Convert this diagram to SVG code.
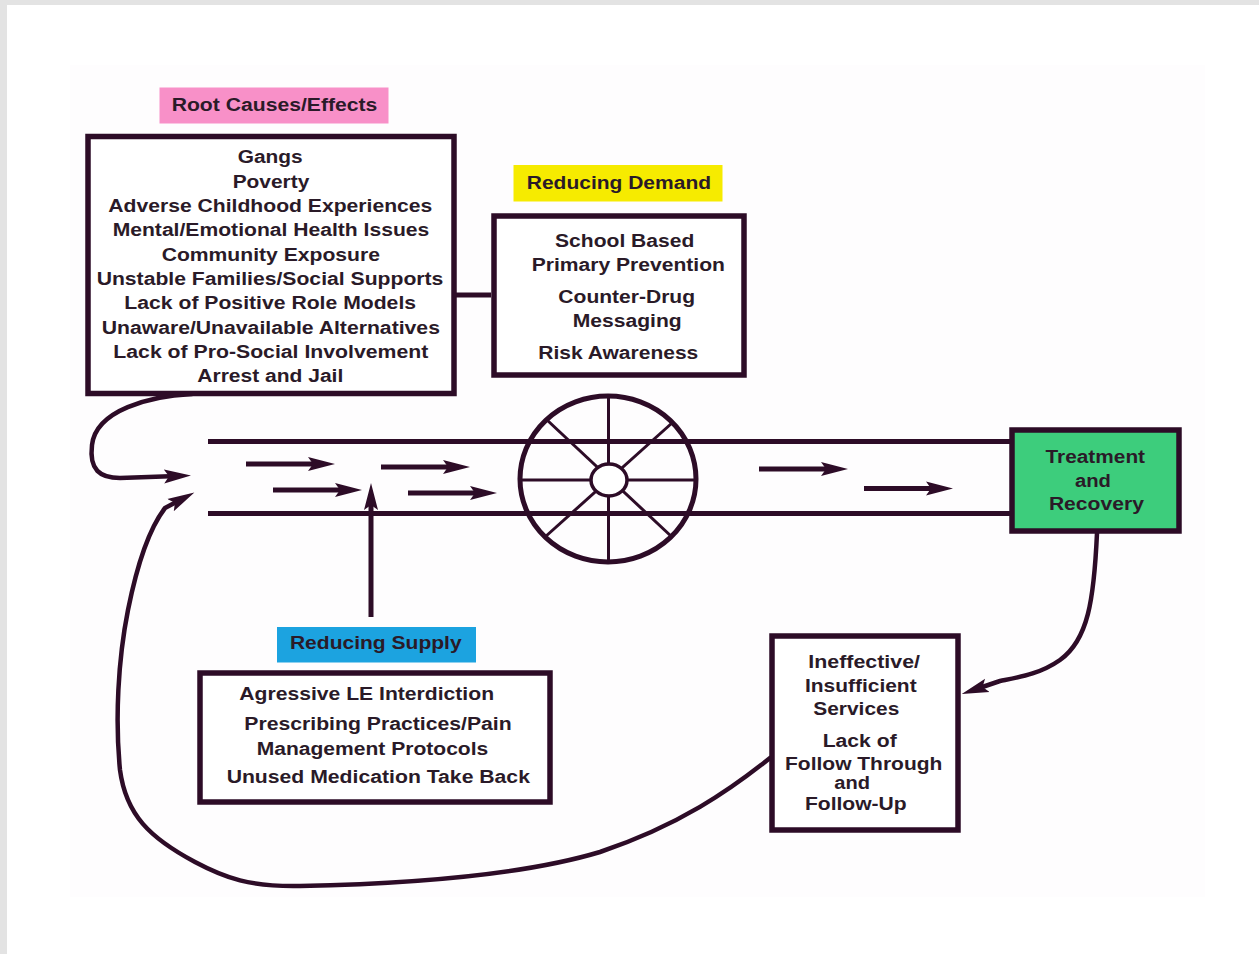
<svg xmlns="http://www.w3.org/2000/svg" width="1259" height="954" viewBox="0 0 1259 954">
<style>
.t{font-family:"Liberation Sans",Arial,sans-serif;font-weight:bold;font-size:18px;fill:#2a1a28;text-anchor:middle}
.box{fill:#ffffff;stroke:#2d0c27;stroke-width:5.5}
.ln{stroke:#2d0c27;stroke-width:5;fill:none}
.cv{stroke:#2d0c27;stroke-width:4.5;fill:none;stroke-linecap:round;stroke-linejoin:round}
.sp{stroke:#2d0c27;stroke-width:3;fill:none}
</style>
<defs>
<marker id="ah" markerUnits="userSpaceOnUse" markerWidth="30" markerHeight="18" refX="13" refY="8" orient="auto">
<path d="M0,1 L27,8 L0,15 L5,8 z" fill="#2d0c27"/>
</marker>
</defs>
<rect x="0" y="0" width="1259" height="954" fill="#ffffff"/>
<rect x="70" y="65" width="1135" height="832" fill="#fefdfe"/>
<rect x="0" y="0" width="1259" height="5" fill="#e3e3e3"/>
<rect x="0" y="0" width="7" height="954" fill="#e3e3e3"/>

<g id="connectors">
<line class="ln" x1="454" y1="295" x2="491" y2="295"/>
<line class="ln" x1="208" y1="441.5" x2="1012" y2="441.5"/>
<line class="ln" x1="208" y1="513.5" x2="1012" y2="513.5"/>
<line class="ln" x1="246" y1="464" x2="321" y2="464" marker-end="url(#ah)"/>
<line class="ln" x1="273" y1="490" x2="348" y2="490" marker-end="url(#ah)"/>
<line class="ln" x1="381" y1="467" x2="456" y2="467" marker-end="url(#ah)"/>
<line class="ln" x1="408" y1="493" x2="483" y2="493" marker-end="url(#ah)"/>
<line class="ln" x1="759" y1="469" x2="834" y2="469" marker-end="url(#ah)"/>
<line class="ln" x1="864" y1="488.5" x2="939" y2="488.5" marker-end="url(#ah)"/>
<line class="ln" x1="371" y1="617" x2="371" y2="497" marker-end="url(#ah)"/>
<path class="cv" d="M192,394 C150,396 96,410 92,445 C89,470 100,478 120,478 L177,476" marker-end="url(#ah)"/>
<path class="cv" d="M770,758 C730,790 680,825 600,852 C520,876 400,884 300,886 C250,887 225,878 195,862 C150,838 126,815 120,770 C115,720 118,660 128,610 C136,570 148,530 165,508 L182,499" marker-end="url(#ah)"/>
<path class="cv" d="M1097,533 C1094,600 1088,640 1060,660 C1040,674 1020,677 1000,681 L975,689.5" marker-end="url(#ah)"/>
</g>

<g id="wheel">
<ellipse class="ln" cx="608" cy="479" rx="88" ry="83"/>
<line class="sp" x1="522" y1="480" x2="694" y2="480"/>
<line class="sp" x1="608.5" y1="397" x2="608.5" y2="561"/>
<line class="sp" x1="547" y1="420" x2="672" y2="537"/>
<line class="sp" x1="672" y1="423" x2="545" y2="537"/>
<ellipse cx="609" cy="480" rx="18" ry="16" fill="#ffffff" stroke="#2d0c27" stroke-width="3.5"/>
</g>

<g id="root-label">
<rect x="159.5" y="87.5" width="229" height="36" fill="#f890c8"/>
<text class="t" x="274.5" y="111" textLength="205.6" lengthAdjust="spacingAndGlyphs">Root Causes/Effects</text>
</g>

<g id="root-box">
<rect class="box" x="88" y="136.5" width="366" height="257"/>
<text class="t" x="270.2" y="163.3" textLength="65" lengthAdjust="spacingAndGlyphs">Gangs</text>
<text class="t" x="271" y="187.6" textLength="76.6" lengthAdjust="spacingAndGlyphs">Poverty</text>
<text class="t" x="270.3" y="211.8" textLength="324" lengthAdjust="spacingAndGlyphs">Adverse Childhood Experiences</text>
<text class="t" x="271" y="236.3" textLength="316.7" lengthAdjust="spacingAndGlyphs">Mental/Emotional Health Issues</text>
<text class="t" x="270.8" y="260.7" textLength="218.3" lengthAdjust="spacingAndGlyphs">Community Exposure</text>
<text class="t" x="270" y="285" textLength="346.7" lengthAdjust="spacingAndGlyphs">Unstable Families/Social Supports</text>
<text class="t" x="270.2" y="309.3" textLength="291.7" lengthAdjust="spacingAndGlyphs">Lack of Positive Role Models</text>
<text class="t" x="270.8" y="333.5" textLength="338.3" lengthAdjust="spacingAndGlyphs">Unaware/Unavailable Alternatives</text>
<text class="t" x="270.8" y="357.8" textLength="315" lengthAdjust="spacingAndGlyphs">Lack of Pro-Social Involvement</text>
<text class="t" x="270.3" y="382" textLength="146" lengthAdjust="spacingAndGlyphs">Arrest and Jail</text>
</g>

<g id="demand-label">
<rect x="513.5" y="165" width="209" height="36.5" fill="#f6eb00"/>
<text class="t" x="618.9" y="189.3" textLength="184.3" lengthAdjust="spacingAndGlyphs">Reducing Demand</text>
</g>

<g id="demand-box">
<rect class="box" x="494" y="216" width="250" height="159"/>
<text class="t" x="624.7" y="247.3" textLength="139.3" lengthAdjust="spacingAndGlyphs">School Based</text>
<text class="t" x="628.3" y="271" textLength="193.3" lengthAdjust="spacingAndGlyphs">Primary Prevention</text>
<text class="t" x="626.7" y="303.3" textLength="136.7" lengthAdjust="spacingAndGlyphs">Counter-Drug</text>
<text class="t" x="627.2" y="326.7" textLength="109" lengthAdjust="spacingAndGlyphs">Messaging</text>
<text class="t" x="618.3" y="359" textLength="160" lengthAdjust="spacingAndGlyphs">Risk Awareness</text>
</g>

<g id="supply-label">
<rect x="277" y="627" width="199" height="35.5" fill="#1ca3e0"/>
<text class="t" x="375.8" y="649.3" textLength="171.7" lengthAdjust="spacingAndGlyphs">Reducing Supply</text>
</g>

<g id="supply-box">
<rect class="box" x="200" y="673" width="350" height="129"/>
<text class="t" x="366.7" y="700" textLength="254.7" lengthAdjust="spacingAndGlyphs">Agressive LE Interdiction</text>
<text class="t" x="378" y="730" textLength="267.4" lengthAdjust="spacingAndGlyphs">Prescribing Practices/Pain</text>
<text class="t" x="372.5" y="755" textLength="231.6" lengthAdjust="spacingAndGlyphs">Management Protocols</text>
<text class="t" x="378.3" y="782.7" textLength="303.3" lengthAdjust="spacingAndGlyphs">Unused Medication Take Back</text>
</g>

<g id="treatment-box">
<rect x="1012" y="430" width="167" height="101" fill="#3dcd7c" stroke="#2d0c27" stroke-width="5.5"/>
<text class="t" x="1095.3" y="463.3" textLength="99.5" lengthAdjust="spacingAndGlyphs">Treatment</text>
<text class="t" x="1093" y="487" textLength="36" lengthAdjust="spacingAndGlyphs">and</text>
<text class="t" x="1096.4" y="510" textLength="95" lengthAdjust="spacingAndGlyphs">Recovery</text>
</g>

<g id="services-box">
<rect class="box" x="772" y="636" width="186" height="194"/>
<text class="t" x="864.2" y="668.3" textLength="111.7" lengthAdjust="spacingAndGlyphs">Ineffective/</text>
<text class="t" x="860.8" y="691.7" textLength="111.7" lengthAdjust="spacingAndGlyphs">Insufficient</text>
<text class="t" x="856.3" y="715" textLength="86" lengthAdjust="spacingAndGlyphs">Services</text>
<text class="t" x="859.7" y="747.3" textLength="74" lengthAdjust="spacingAndGlyphs">Lack of</text>
<text class="t" x="863.7" y="769.5" textLength="157.3" lengthAdjust="spacingAndGlyphs">Follow Through</text>
<text class="t" x="852.2" y="789.3" textLength="35.7" lengthAdjust="spacingAndGlyphs">and</text>
<text class="t" x="855.8" y="810" textLength="101.7" lengthAdjust="spacingAndGlyphs">Follow-Up</text>
</g>
</svg>
